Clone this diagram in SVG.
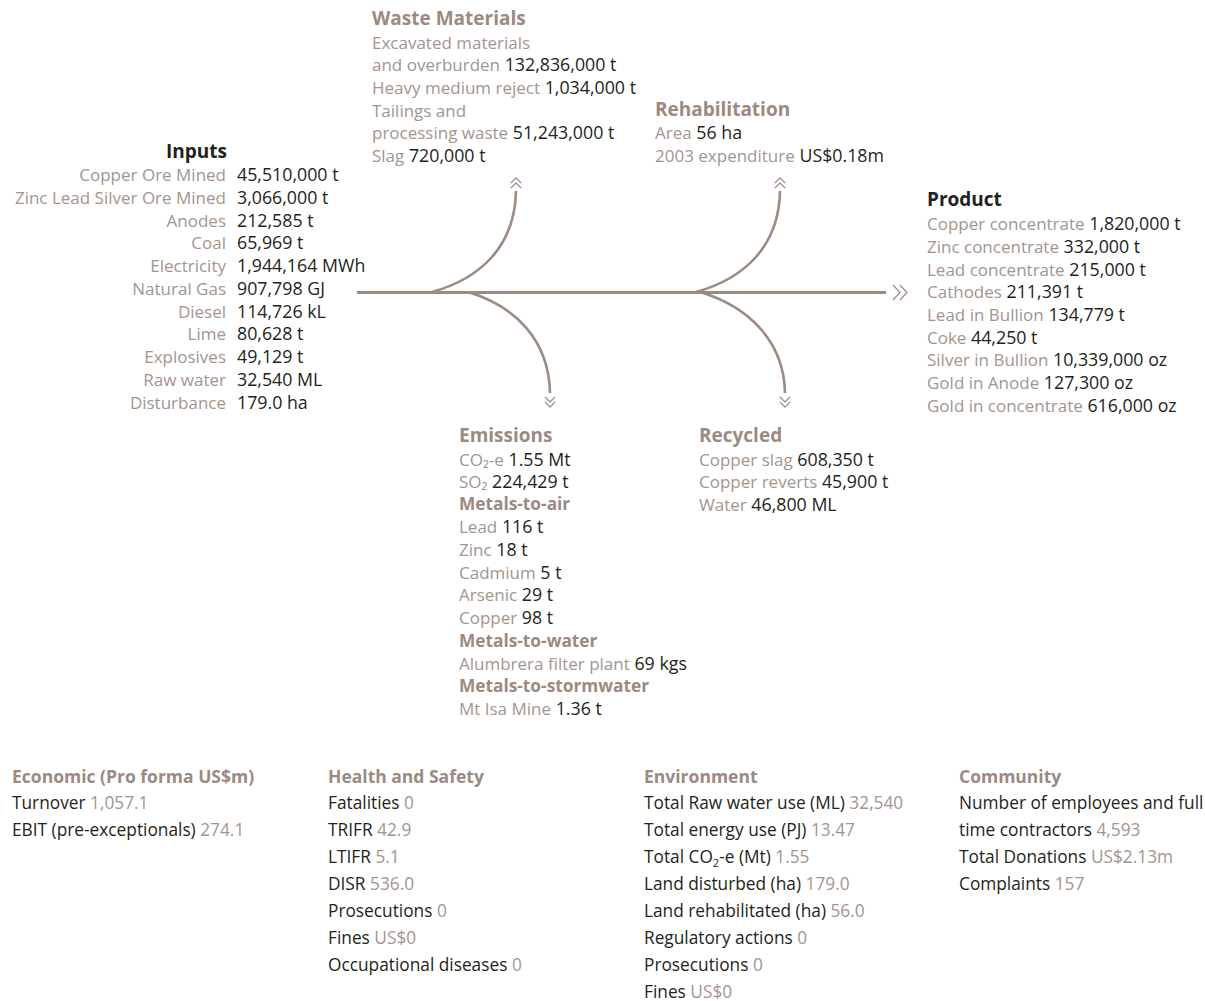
<svg xmlns="http://www.w3.org/2000/svg" width="1205" height="1001" viewBox="0 0 1205 1001">
<style>
text{font-family:"Open Sans","Noto Sans","Liberation Sans",sans-serif;font-size:17px;}
.lab{fill:#a3958d;font-weight:400;font-size:17px;}
.val{fill:#231f20;font-weight:400;font-size:17.8px;}
.ttl{fill:#9c8a80;font-weight:700;font-size:19px;}
.ttlk{fill:#231f20;font-weight:700;font-size:19px;}
.sub{fill:#9c8a80;font-weight:700;font-size:17.3px;}
.r{text-anchor:end;}
.b{font-size:17.3px;}
.bt{fill:#9c8a80;font-weight:700;font-size:17.5px;}
.bl{fill:#231f20;font-weight:400;}
.bv{fill:#a3958d;font-weight:400;}
.flow{fill:none;stroke:#9c8b80;stroke-width:2.6;}
.main{fill:none;stroke:#9c8b80;stroke-width:3;}
.chev{fill:none;stroke:#a09088;stroke-width:1.3;}
</style>
<defs>
<g id="up" class="chev"><polyline points="-5,5 0,0 5,5"/><polyline points="-5,10 0,5 5,10"/></g>
<g id="down" class="chev"><polyline points="-5,-5 0,0 5,-5"/><polyline points="-5,-10 0,-5 5,-10"/></g>
</defs>

<g id="connectors">
<line class="main" x1="357" y1="292.5" x2="886" y2="292.5"/>
<path class="flow" d="M432,292 C482,278 515,245 516,191"/>
<path class="flow" d="M468,292 C515,306 549,340 550,393"/>
<path class="flow" d="M696,292 C746,278 779,245 780,191"/>
<path class="flow" d="M700,292 C747,306 784,340 785,393"/>
<use href="#up" x="516" y="178"/>
<use href="#up" x="780" y="178"/>
<use href="#down" x="550" y="407"/>
<use href="#down" x="785" y="407"/>
<g class="chev"><polyline points="893,285 900,292.5 893,300"/><polyline points="900,285 907,292.5 900,300"/></g>
</g>

<g id="inputs">
<text class="ttlk" x="227" y="158" text-anchor="end">Inputs</text>
<text class="lab r" x="226" y="181">Copper Ore Mined</text><text class="val" x="237" y="181">45,510,000 t</text>
<text class="lab r" x="226" y="204">Zinc Lead Silver Ore Mined</text><text class="val" x="237" y="204">3,066,000 t</text>
<text class="lab r" x="226" y="227">Anodes</text><text class="val" x="237" y="227">212,585 t</text>
<text class="lab r" x="226" y="249">Coal</text><text class="val" x="237" y="249">65,969 t</text>
<text class="lab r" x="226" y="272">Electricity</text><text class="val" x="237" y="272">1,944,164 MWh</text>
<text class="lab r" x="226" y="295">Natural Gas</text><text class="val" x="237" y="295">907,798 GJ</text>
<text class="lab r" x="226" y="318">Diesel</text><text class="val" x="237" y="318">114,726 kL</text>
<text class="lab r" x="226" y="340">Lime</text><text class="val" x="237" y="340">80,628 t</text>
<text class="lab r" x="226" y="363">Explosives</text><text class="val" x="237" y="363">49,129 t</text>
<text class="lab r" x="226" y="386">Raw water</text><text class="val" x="237" y="386">32,540 ML</text>
<text class="lab r" x="226" y="409">Disturbance</text><text class="val" x="237" y="409">179.0 ha</text>
</g>

<g id="waste">
<text class="ttl" x="372" y="25">Waste Materials</text>
<text x="372" y="49"><tspan class="lab">Excavated materials</tspan></text>
<text x="372" y="71"><tspan class="lab">and overburden</tspan><tspan class="val"> 132,836,000 t</tspan></text>
<text x="372" y="94"><tspan class="lab">Heavy medium reject</tspan><tspan class="val"> 1,034,000 t</tspan></text>
<text x="372" y="117"><tspan class="lab">Tailings and</tspan></text>
<text x="372" y="139"><tspan class="lab">processing waste</tspan><tspan class="val"> 51,243,000 t</tspan></text>
<text x="372" y="162"><tspan class="lab">Slag</tspan><tspan class="val"> 720,000 t</tspan></text>
</g>

<g id="rehabilitation">
<text class="ttl" x="655" y="116">Rehabilitation</text>
<text x="655" y="139"><tspan class="lab">Area</tspan><tspan class="val"> 56 ha</tspan></text>
<text x="655" y="162"><tspan class="lab">2003 expenditure</tspan><tspan class="val"> US$0.18m</tspan></text>
</g>

<g id="product">
<text class="ttlk" x="927" y="206">Product</text>
<text x="927" y="230"><tspan class="lab">Copper concentrate</tspan><tspan class="val"> 1,820,000 t</tspan></text>
<text x="927" y="253"><tspan class="lab">Zinc concentrate</tspan><tspan class="val"> 332,000 t</tspan></text>
<text x="927" y="276"><tspan class="lab">Lead concentrate</tspan><tspan class="val"> 215,000 t</tspan></text>
<text x="927" y="298"><tspan class="lab">Cathodes</tspan><tspan class="val"> 211,391 t</tspan></text>
<text x="927" y="321"><tspan class="lab">Lead in Bullion</tspan><tspan class="val"> 134,779 t</tspan></text>
<text x="927" y="344"><tspan class="lab">Coke</tspan><tspan class="val"> 44,250 t</tspan></text>
<text x="927" y="366"><tspan class="lab">Silver in Bullion</tspan><tspan class="val"> 10,339,000 oz</tspan></text>
<text x="927" y="389"><tspan class="lab">Gold in Anode</tspan><tspan class="val"> 127,300 oz</tspan></text>
<text x="927" y="412"><tspan class="lab">Gold in concentrate</tspan><tspan class="val"> 616,000 oz</tspan></text>
</g>

<g id="emissions">
<text class="ttl" x="459" y="442">Emissions</text>
<text x="459" y="466"><tspan class="lab">CO₂-e</tspan><tspan class="val"> 1.55 Mt</tspan></text>
<text x="459" y="488"><tspan class="lab">SO₂</tspan><tspan class="val"> 224,429 t</tspan></text>
<text class="sub" x="459" y="510">Metals-to-air</text>
<text x="459" y="533"><tspan class="lab">Lead</tspan><tspan class="val"> 116 t</tspan></text>
<text x="459" y="556"><tspan class="lab">Zinc</tspan><tspan class="val"> 18 t</tspan></text>
<text x="459" y="579"><tspan class="lab">Cadmium</tspan><tspan class="val"> 5 t</tspan></text>
<text x="459" y="601"><tspan class="lab">Arsenic</tspan><tspan class="val"> 29 t</tspan></text>
<text x="459" y="624"><tspan class="lab">Copper</tspan><tspan class="val"> 98 t</tspan></text>
<text class="sub" x="459" y="647">Metals-to-water</text>
<text x="459" y="670"><tspan class="lab">Alumbrera filter plant</tspan><tspan class="val"> 69 kgs</tspan></text>
<text class="sub" x="459" y="692">Metals-to-stormwater</text>
<text x="459" y="715"><tspan class="lab">Mt Isa Mine</tspan><tspan class="val"> 1.36 t</tspan></text>
</g>

<g id="recycled">
<text class="ttl" x="699" y="442">Recycled</text>
<text x="699" y="466"><tspan class="lab">Copper slag</tspan><tspan class="val"> 608,350 t</tspan></text>
<text x="699" y="488"><tspan class="lab">Copper reverts</tspan><tspan class="val"> 45,900 t</tspan></text>
<text x="699" y="511"><tspan class="lab">Water</tspan><tspan class="val"> 46,800 ML</tspan></text>
</g>

<g id="economic">
<text class="bt" x="12" y="783">Economic (Pro forma US$m)</text>
<text class="b" x="12" y="809"><tspan class="bl">Turnover</tspan><tspan class="bv"> 1,057.1</tspan></text>
<text class="b" x="12" y="836"><tspan class="bl">EBIT (pre-exceptionals)</tspan><tspan class="bv"> 274.1</tspan></text>
</g>

<g id="health">
<text class="bt" x="328" y="783">Health and Safety</text>
<text class="b" x="328" y="809"><tspan class="bl">Fatalities</tspan><tspan class="bv"> 0</tspan></text>
<text class="b" x="328" y="836"><tspan class="bl">TRIFR</tspan><tspan class="bv"> 42.9</tspan></text>
<text class="b" x="328" y="863"><tspan class="bl">LTIFR</tspan><tspan class="bv"> 5.1</tspan></text>
<text class="b" x="328" y="890"><tspan class="bl">DISR</tspan><tspan class="bv"> 536.0</tspan></text>
<text class="b" x="328" y="917"><tspan class="bl">Prosecutions</tspan><tspan class="bv"> 0</tspan></text>
<text class="b" x="328" y="944"><tspan class="bl">Fines</tspan><tspan class="bv"> US$0</tspan></text>
<text class="b" x="328" y="971"><tspan class="bl">Occupational diseases</tspan><tspan class="bv"> 0</tspan></text>
</g>

<g id="environment">
<text class="bt" x="644" y="783">Environment</text>
<text class="b" x="644" y="809"><tspan class="bl">Total Raw water use (ML)</tspan><tspan class="bv"> 32,540</tspan></text>
<text class="b" x="644" y="836"><tspan class="bl">Total energy use (PJ)</tspan><tspan class="bv"> 13.47</tspan></text>
<text class="b" x="644" y="863"><tspan class="bl">Total CO</tspan><tspan class="bl" font-size="11" dy="4">2</tspan><tspan class="bl" dy="-4">-e (Mt)</tspan><tspan class="bv"> 1.55</tspan></text>
<text class="b" x="644" y="890"><tspan class="bl">Land disturbed (ha)</tspan><tspan class="bv"> 179.0</tspan></text>
<text class="b" x="644" y="917"><tspan class="bl">Land rehabilitated (ha)</tspan><tspan class="bv"> 56.0</tspan></text>
<text class="b" x="644" y="944"><tspan class="bl">Regulatory actions</tspan><tspan class="bv"> 0</tspan></text>
<text class="b" x="644" y="971"><tspan class="bl">Prosecutions</tspan><tspan class="bv"> 0</tspan></text>
<text class="b" x="644" y="998"><tspan class="bl">Fines</tspan><tspan class="bv"> US$0</tspan></text>
</g>

<g id="community">
<text class="bt" x="959" y="783">Community</text>
<text class="b" x="959" y="809"><tspan class="bl">Number of employees and full</tspan></text>
<text class="b" x="959" y="836"><tspan class="bl">time contractors</tspan><tspan class="bv"> 4,593</tspan></text>
<text class="b" x="959" y="863"><tspan class="bl">Total Donations</tspan><tspan class="bv"> US$2.13m</tspan></text>
<text class="b" x="959" y="890"><tspan class="bl">Complaints</tspan><tspan class="bv"> 157</tspan></text>
</g>
</svg>
